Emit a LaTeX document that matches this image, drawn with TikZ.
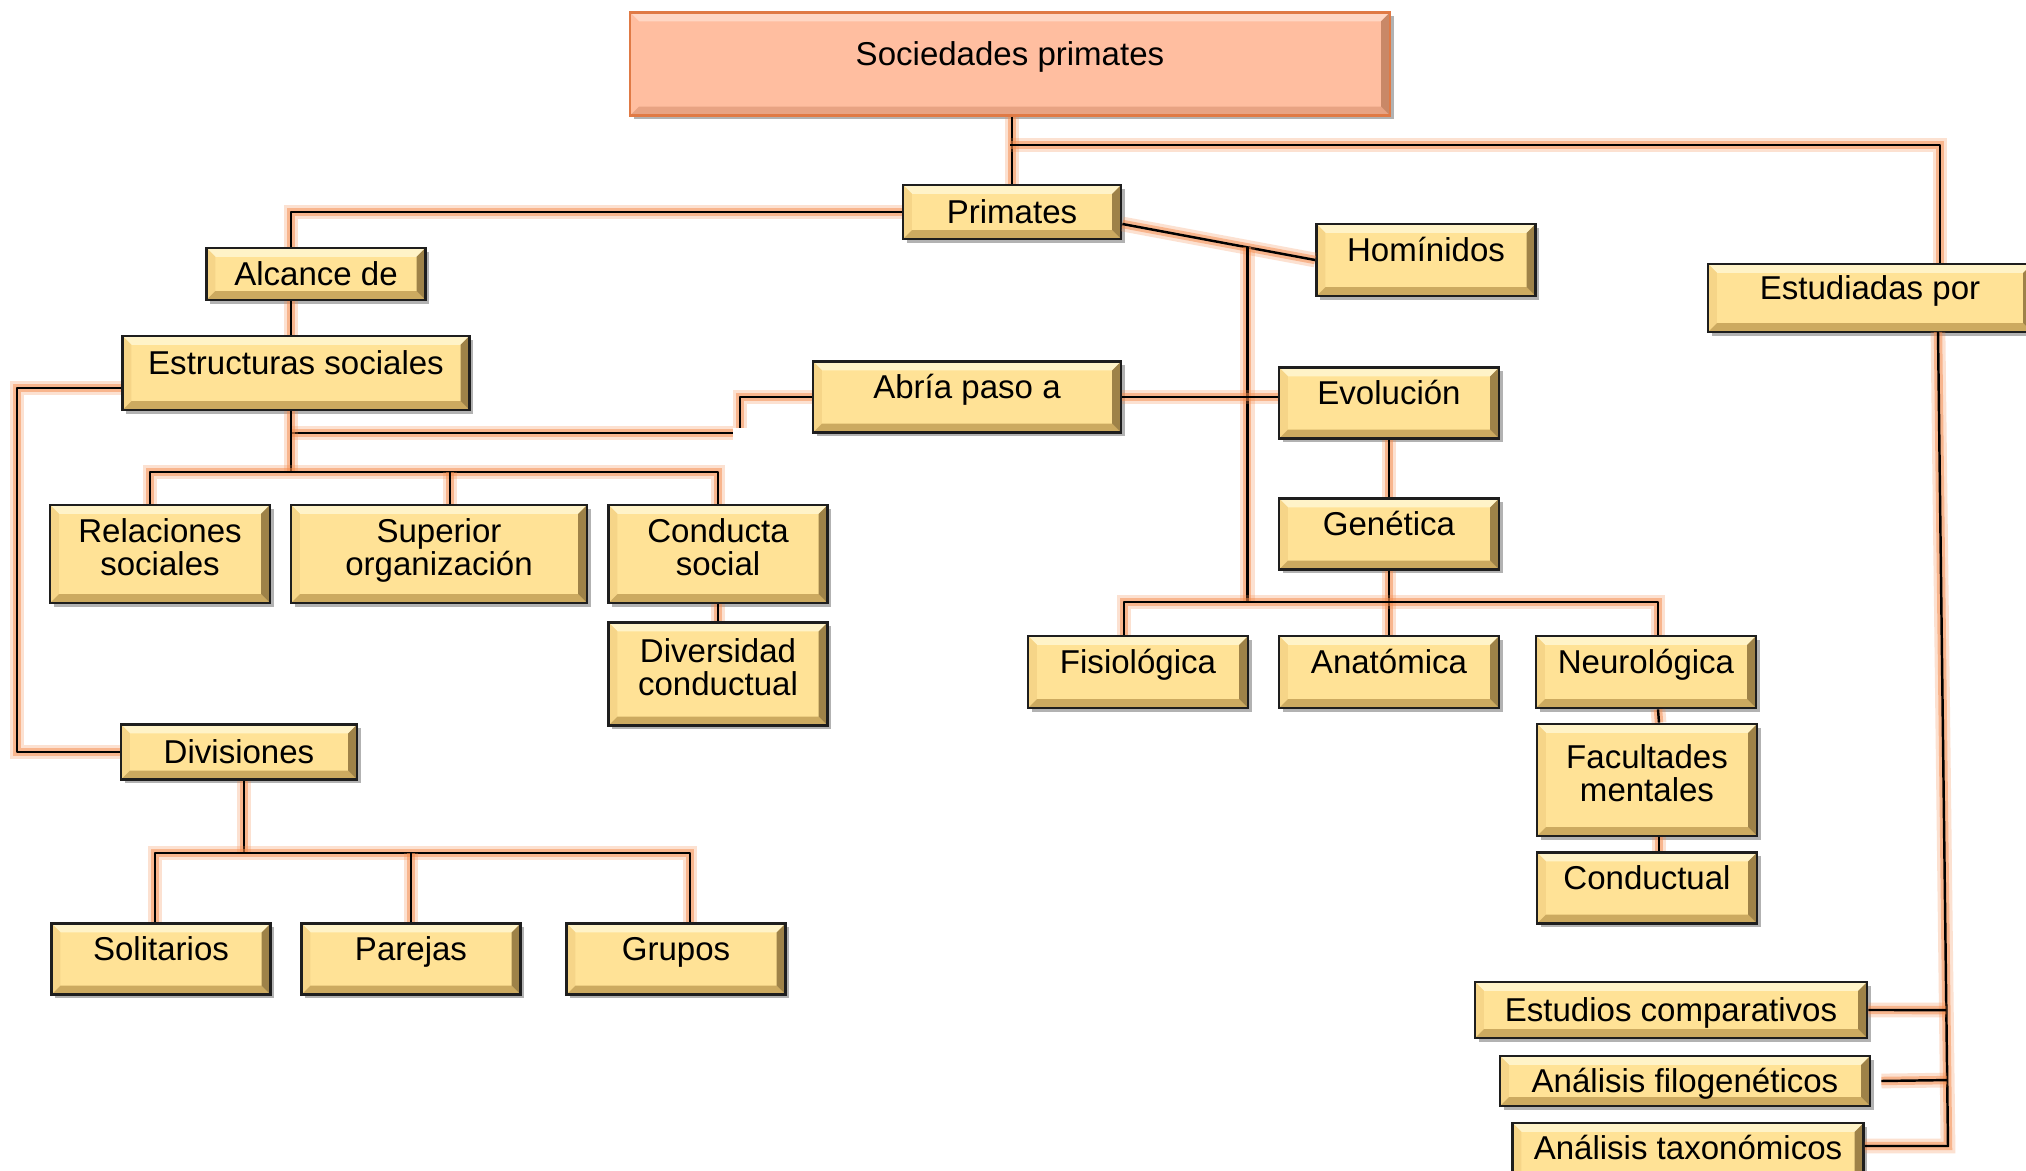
\documentclass[tikz,border=0pt]{standalone}
\usepackage{fontspec}
\setmainfont{Liberation Sans}
\usetikzlibrary{calc,shadows}

\definecolor{boxfill}{HTML}{FFE296}
\definecolor{boxlight}{HTML}{FFF3C8}
\definecolor{boxside}{HTML}{F6D588}
\definecolor{boxdark}{HTML}{CCAA60}
\definecolor{boxshade}{HTML}{9E8248}
\definecolor{boxline}{HTML}{1E1E1E}
\definecolor{rootfill}{HTML}{FFBEA0}
\definecolor{rootlight}{HTML}{FFD7C4}
\definecolor{rootdark}{HTML}{E8A383}
\definecolor{rootshade}{HTML}{C98867}
\definecolor{rootline}{HTML}{E07A45}
\definecolor{glow}{HTML}{F58A4A}

\newcommand{\boxfont}{\fontsize{9.4}{9.5}\selectfont}
% four faces of the bevel: light top, side left, dark bottom, shade right
\newcommand{\boxbevel}[4]{%
  \fill[#1] (path picture bounding box.north west) -- (path picture bounding box.north east)
    -- ($(path picture bounding box.north east)+(-2.5pt,-2.5pt)$)
    -- ($(path picture bounding box.north west)+(2.5pt,-2.5pt)$) -- cycle;
  \fill[#2] (path picture bounding box.north west) -- ($(path picture bounding box.north west)+(2.5pt,-2.5pt)$)
    -- ($(path picture bounding box.south west)+(2.5pt,2.5pt)$) -- (path picture bounding box.south west) -- cycle;
  \fill[#3] (path picture bounding box.south west) -- (path picture bounding box.south east)
    -- ($(path picture bounding box.south east)+(-2.5pt,2.5pt)$)
    -- ($(path picture bounding box.south west)+(2.5pt,2.5pt)$) -- cycle;
  \fill[#4] (path picture bounding box.north east) -- ($(path picture bounding box.north east)+(-2.5pt,-2.5pt)$)
    -- ($(path picture bounding box.south east)+(-2.5pt,2.5pt)$) -- (path picture bounding box.south east) -- cycle;
}

\begin{document}
\begin{tikzpicture}[x=0.1mm,y=-0.1mm,
  box size/.style 2 args={minimum width=#1mm,minimum height=#2mm},
  concept/.style={draw=boxline,line width=0.8pt,fill=boxfill,font=\boxfont,align=center,
    inner sep=0pt,text height=7pt,text depth=0.6pt,
    drop shadow={shadow xshift=1.1pt,shadow yshift=-1.1pt,opacity=.3,fill=black},
    path picture={\boxbevel{boxlight}{boxside}{boxdark}{boxshade}}},
  tall/.style={text depth=6pt},
  two lines/.style={text height=,text depth=4pt},
  root node/.style={concept,tall,draw=rootline,line width=0.6pt,fill=rootfill,
    path picture={\boxbevel{rootlight}{rootfill}{rootdark}{rootshade}}},
  link/.style={draw=black,line width=0.7pt,line join=round,
    preaction={draw=glow,line width=4.2pt,opacity=.25},
    preaction={draw=glow,line width=2.4pt,opacity=.5}}]

\path[use as bounding box,fill=white] (0,0) rectangle (2026,1171);

% boxes
\node[root node,box size={76}{10.3}] (soc) at (1010,64) {Sociedades primates};
\node[concept,box size={21.8}{5.4}] (prim) at (1012,212) {Primates};
\node[concept,box size={21.9}{5.2}] (alc) at (316,274) {Alcance de};
\node[concept,tall,box size={21.9}{7.2}] (hom) at (1426,260) {Homínidos};
\node[concept,tall,box size={32.4}{6.8}] (estud) at (1870,298) {Estudiadas por};
\node[concept,tall,box size={34.7}{7.4}] (estr) at (296,373) {Estructuras sociales};
\node[concept,tall,box size={30.8}{7.1}] (abria) at (967,397) {Abría paso a};
\node[concept,tall,box size={22}{7.1}] (evol) at (1389,403) {Evolución};
\node[concept,tall,box size={22}{7.1}] (gen) at (1389,534) {Genética};

\foreach \name/\x/\w/\txt in {rel/160/22/{Relaciones\\sociales},
    sup/439/29.6/{Superior\\organización},cond/718/21.9/{Conducta\\social}}{
  \node[concept,two lines,box size={\w}{9.8}] (\name) at (\x,554) {\txt};
}
\node[concept,two lines,box size={21.9}{10.3}] (div) at (718,674) {Diversidad\\conductual};

\foreach \name/\x/\txt in {fis/1138/Fisiológica,anat/1389/Anatómica,neuro/1646/Neurológica}{
  \node[concept,tall,box size={22}{7.2}] (\name) at (\x,672) {\txt};
}
\node[concept,two lines,box size={22}{11.2}] (facu) at (1647,780) {Facultades\\mentales};
\node[concept,tall,box size={22}{7.1}] (condl) at (1647,888) {Conductual};

\node[concept,box size={23.6}{5.5}] (divis) at (239,752) {Divisiones};
\foreach \name/\x/\txt in {sol/161/Solitarios,par/411/Parejas,gru/676/Grupos}{
  \node[concept,tall,box size={21.9}{7.1}] (\name) at (\x,959) {\txt};
}

\node[concept,box size={39.2}{5.6}] (ecomp) at (1671,1010) {Estudios comparativos};
\node[concept,box size={37}{5}] (afilo) at (1685,1081) {Análisis filogenéticos};
\node[concept,tall,box size={35.1}{7}] (atax) at (1688,1158) {Análisis taxonómicos};

% junctions of the connectors
\coordinate (top bus) at (1010,145);
\coordinate (estud in) at (1940,145);
\coordinate (prim out) at ([yshift=-1.2mm]prim.east);
\coordinate (hom split) at ($(prim out)!0.648!(hom.west)$);
\coordinate (gen bus) at (1389,602);
\coordinate (fis in) at ([xshift=-1.4mm]fis.north);
\coordinate (neuro in) at ([xshift=1.2mm]neuro.north);
\coordinate (abria drop) at (740,428);
\coordinate (estr low) at (291,433);
\coordinate (abria gap) at (733,433);
\coordinate (estr bus) at (291,472);
\coordinate (rel in) at ([xshift=-1mm]rel.north);
\coordinate (sup in) at ([xshift=1.1mm]sup.north);
\coordinate (estr out) at ([yshift=-1.5mm]estr.west);
\coordinate (left rail) at (17,0);
\coordinate (divis bus) at (244,853);
\coordinate (sol in) at ([xshift=-0.6mm]sol.north);
\coordinate (gru in) at ([xshift=1.4mm]gru.north);
\coordinate (rail top) at (1938,332);
\coordinate (rail end) at (1948,1146);

% connectors
\draw[link] (prim.north |- soc.south) -- (prim.north);
\draw[link] (top bus) -- (estud in) -- (estud in |- estud.north);
\draw[link] (prim.west) -| (alc.north -| estr low);
\draw[link] (alc.south -| estr low) -- (estr.north -| estr low);
\draw[link] (prim out) -- (hom.west);
\draw[link] (hom split) -- (hom split |- gen bus);
\draw[link] (evol.south) -- (gen.north);
\draw[link] (gen.south) -- (anat.north);
\draw[link] (fis in) |- (gen bus) -| (neuro in);
\draw[link] (abria.east) -- (abria.east -| evol.west);
\draw[link] (abria.west) -| (abria drop);
\draw[link] (estr low) -- (abria gap);
\draw[link] (estr.south -| estr bus) -- (estr bus);
\draw[link] (rel in) |- (cond.north |- estr bus) -- (cond.north);
\draw[link] (sup in) -- (sup in |- estr bus);
\draw[link] (cond.south) -- (div.north);
\draw[link] (estr out) -| (left rail |- divis.west) -- (divis.west);
\draw[link] (divis.south -| divis bus) -- (divis bus);
\draw[link] (sol in) |- (gru in |- divis bus) -- (gru in);
\draw[link] (par.north) -- (par.north |- divis bus);
\draw[link] ([xshift=1.2mm]neuro.south) -- ([xshift=1.2mm]facu.north);
\draw[link] ([xshift=1.2mm]facu.south) -- ([xshift=1.2mm]condl.north);
\draw[link] (rail top) -- (rail end) -- ([yshift=1.2mm]atax.east);
\draw[link] (ecomp.east) -- ($(rail top)!0.833!(rail end)$);
\draw[link] ([xshift=1mm]afilo.east) -- ($(rail top)!0.919!(rail end)$);
\end{tikzpicture}
\end{document}
